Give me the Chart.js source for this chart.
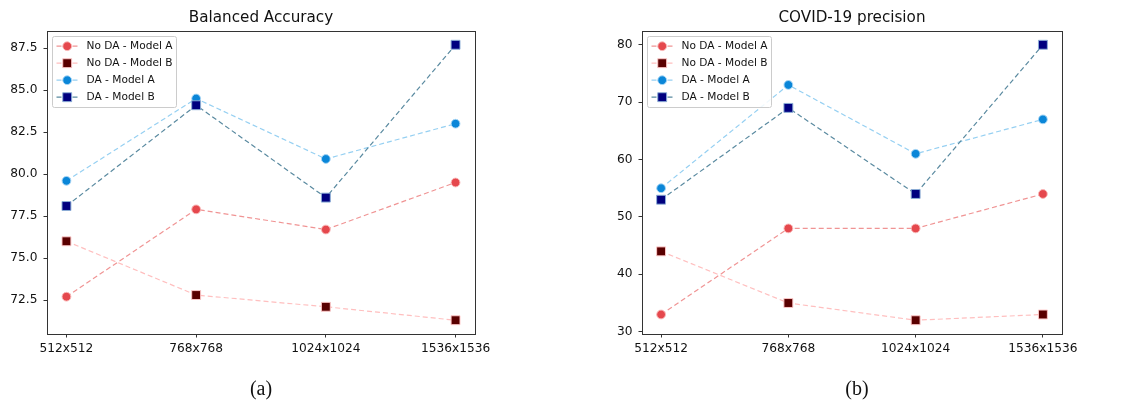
<!DOCTYPE html>
<html>
<head>
<meta charset="utf-8">
<script src="https://cdn.jsdelivr.net/npm/chart.js@4.4.1/dist/chart.umd.min.js"></script>
<style>
  html, body { margin: 0; padding: 0; background: #ffffff; }
  body { width: 1141px; height: 404px; position: relative; overflow: hidden; }
  .panel { position: absolute; top: 0; }
  .cap { position: absolute; font-family: "Liberation Serif", "DejaVu Serif", serif; font-size: 20px; color: #111; transform: translate(-50%, -50%); line-height: 1; }
</style>
</head>
<body>
<div class="panel" style="left:0px;"><canvas id="cA" width="520" height="404"></canvas></div>
<div class="panel" style="left:570px;"><canvas id="cB" width="571" height="404"></canvas></div>
<div class="cap" style="left:261px; top:388px;">(a)</div>
<div class="cap" style="left:857px; top:388px;">(b)</div>
<script>
// ---------------- DATA ----------------
const categories = ['512x512', '768x768', '1024x1024', '1536x1536'];
const seriesLabels = ['No DA - Model A', 'No DA - Model B', 'DA - Model A', 'DA - Model B'];

// (a) Balanced Accuracy
const accNoDA_A = [72.7, 77.9, 76.7, 79.5];
const accNoDA_B = [76.0, 72.8, 72.1, 71.3];
const accDA_A   = [79.6, 84.5, 80.9, 83.0];
const accDA_B   = [78.1, 84.1, 78.6, 87.7];
const accTicks  = [72.5, 75.0, 77.5, 80.0, 82.5, 85.0, 87.5];

// (b) COVID-19 precision
const precNoDA_A = [33, 48, 48, 54];
const precNoDA_B = [44, 35, 32, 33];
const precDA_A   = [55, 73, 61, 67];
const precDA_B   = [53, 69, 54, 80];
const precTicks  = [30, 40, 50, 60, 70, 80];

// ---------------- STYLES ----------------
const seriesStyles = [
  { marker: 'circle', fill: '#e5484d', edge: 'rgba(250,185,185,0.95)', line: '#f09494', radius: 4.4 },
  { marker: 'rect',   fill: '#5a0000', edge: 'rgba(255,200,200,0.95)', line: '#ffbfbf', radius: 6.3 },
  { marker: 'circle', fill: '#0a86d8', edge: 'rgba(170,215,245,0.95)', line: '#96d0f2', radius: 4.4 },
  { marker: 'rect',   fill: '#00007f', edge: 'rgba(140,175,215,0.95)', line: '#5a8aa0', radius: 6.3 }
];
const FONT = "'DejaVu Sans', sans-serif";
const AXIS_COLOR = '#333333';
const TEXT_COLOR = '#111111';

function drawMarker(ctx, st, x, y) {
  ctx.save();
  ctx.fillStyle = st.fill;
  ctx.strokeStyle = st.edge;
  ctx.lineWidth = 1;
  ctx.setLineDash([]);
  ctx.beginPath();
  if (st.marker === 'circle') {
    ctx.arc(x, y, st.radius, 0, Math.PI * 2);
  } else {
    const s = Math.SQRT1_2 * st.radius;
    ctx.rect(x - s, y - s, 2 * s, 2 * s);
  }
  ctx.fill();
  ctx.stroke();
  ctx.restore();
}

const frameAndLegend = {
  id: 'frameAndLegend',
  afterDraw(chart) {
    const ctx = chart.ctx;
    const a = chart.chartArea;
    // axes frame (all four spines)
    ctx.save();
    ctx.strokeStyle = AXIS_COLOR;
    ctx.lineWidth = 1;
    ctx.setLineDash([]);
    ctx.strokeRect(Math.round(a.left) + 0.5, Math.round(a.top) + 0.5,
                   Math.round(a.right) - Math.round(a.left), Math.round(a.bottom) - Math.round(a.top));
    ctx.restore();

    // legend inside axes, upper-left
    const ds = chart.data.datasets;
    ctx.save();
    ctx.font = "10.6px " + FONT;
    let maxW = 0;
    ds.forEach(d => { maxW = Math.max(maxW, ctx.measureText(d.label).width); });
    const bx = Math.round(a.left) + 5.5, by = Math.round(a.top) + 5.5;
    const bw = Math.round(34 + maxW + 4), bh = 71;
    ctx.fillStyle = 'rgba(255,255,255,0.85)';
    ctx.strokeStyle = '#cccccc';
    ctx.lineWidth = 1;
    ctx.beginPath();
    if (ctx.roundRect) ctx.roundRect(bx, by, bw, bh, 2); else ctx.rect(bx, by, bw, bh);
    ctx.fill();
    ctx.stroke();
    ds.forEach((d, i) => {
      const st = d._style;
      const y = by + 9.7 + i * 17;
      ctx.strokeStyle = st.line;
      ctx.lineWidth = 1.2;
      ctx.setLineDash([5, 3]);
      ctx.beginPath();
      ctx.moveTo(bx + 4, y);
      ctx.lineTo(bx + 25, y);
      ctx.stroke();
      ctx.setLineDash([]);
      drawMarker(ctx, st, bx + 14.7, y);
      ctx.fillStyle = TEXT_COLOR;
      ctx.textBaseline = 'middle';
      ctx.textAlign = 'left';
      ctx.fillText(d.label, bx + 34, y + 0.5);
    });
    ctx.restore();
  }
};

function makeChart(id, title, series, ticks, decimals, geo) {
  const all = series.flat();
  const dmin = Math.min(...all), dmax = Math.max(...all);
  const margin = 0.05 * (dmax - dmin);
  const canvas = document.getElementById(id);
  const datasets = series.map((vals, i) => {
    const st = seriesStyles[i];
    return {
      label: seriesLabels[i],
      _style: st,
      data: vals.map((v, k) => ({ x: k, y: v })),
      borderColor: st.line,
      borderWidth: 1.2,
      borderDash: [5, 3],
      pointStyle: st.marker,
      pointRadius: st.radius,
      pointBackgroundColor: st.fill,
      pointBorderColor: st.edge,
      pointBorderWidth: 1,
      tension: 0,
      fill: false,
      order: series.length - i
    };
  });
  return new Chart(canvas, {
    type: 'line',
    data: { datasets },
    plugins: [frameAndLegend],
    options: {
      responsive: false,
      animation: false,
      events: [],
      layout: { padding: { left: 0, right: canvas.width - geo.right, top: 0, bottom: 0 } },
      plugins: {
        legend: { display: false },
        tooltip: { enabled: false },
        title: {
          display: true,
          text: title,
          fullSize: false,
          color: TEXT_COLOR,
          font: { family: FONT, size: 15.2, weight: 'normal', lineHeight: 1.2 },
          padding: { top: 8.5, bottom: geo.top - 8.5 - 18.24 }
        }
      },
      scales: {
        x: {
          type: 'linear',
          min: -0.15,
          max: categories.length - 1 + 0.15,
          afterBuildTicks: s => { s.ticks = categories.map((c, i) => ({ value: i })); },
          afterFit: s => { s.height = canvas.height - geo.bottom; },
          ticks: {
            callback: v => categories[v],
            autoSkip: false,
            maxRotation: 0,
            color: TEXT_COLOR,
            font: { family: FONT, size: 12.2 },
            padding: 4
          },
          grid: { display: true, drawOnChartArea: false, drawTicks: true, tickLength: 3.5, color: AXIS_COLOR, lineWidth: 1 },
          border: { display: true, color: AXIS_COLOR, width: 1 }
        },
        y: {
          type: 'linear',
          min: dmin - margin,
          max: dmax + margin,
          afterBuildTicks: s => { s.ticks = ticks.map(v => ({ value: v })); },
          afterFit: s => { s.width = geo.left; },
          ticks: {
            callback: v => Number(v).toFixed(decimals),
            color: TEXT_COLOR,
            font: { family: FONT, size: 12.2 },
            padding: 6
          },
          grid: { display: true, drawOnChartArea: false, drawTicks: true, tickLength: 3.5, color: AXIS_COLOR, lineWidth: 1 },
          border: { display: true, color: AXIS_COLOR, width: 1 }
        }
      }
    }
  });
}

makeChart('cA', 'Balanced Accuracy', [accNoDA_A, accNoDA_B, accDA_A, accDA_B], accTicks, 1,
          { left: 47, right: 475, top: 31, bottom: 334 });
makeChart('cB', 'COVID-19 precision', [precNoDA_A, precNoDA_B, precDA_A, precDA_B], precTicks, 0,
          { left: 72, right: 492, top: 31, bottom: 334 });
</script>
</body>
</html>
